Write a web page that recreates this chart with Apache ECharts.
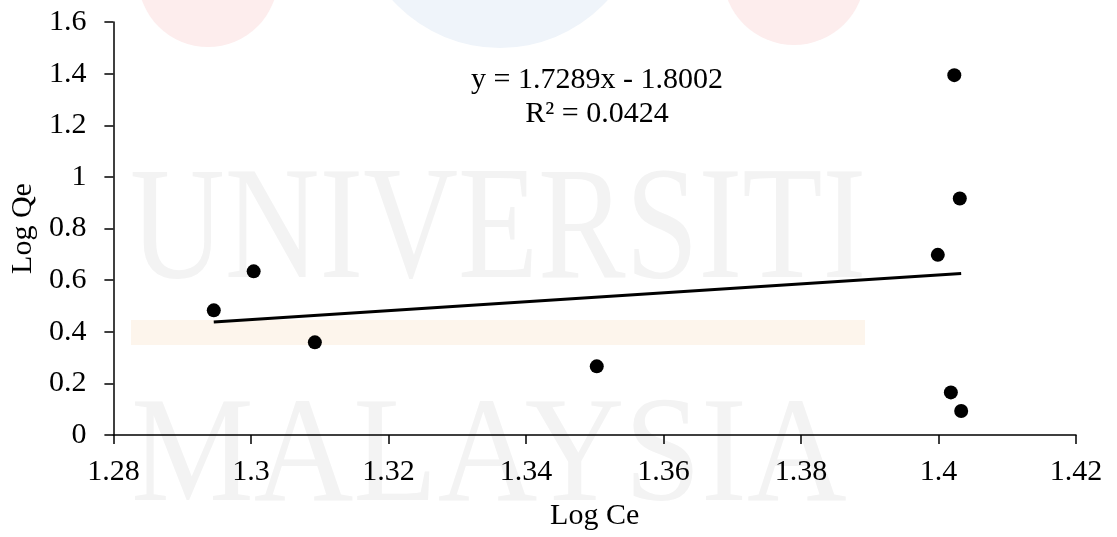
<!DOCTYPE html>
<html>
<head>
<meta charset="utf-8">
<title>Log Qe vs Log Ce</title>
<script src="https://cdn.jsdelivr.net/npm/echarts@6/dist/echarts.min.js"></script>
<style>
  html, body { margin: 0; padding: 0; background: #ffffff; }
  #chart { width: 1117px; height: 537px; }
</style>
</head>
<body>
<div id="chart"></div>
<script>
// Freundlich plot: log of equilibrium concentration vs log of uptake
const logCe = [1.2946, 1.3004, 1.3093, 1.3503, 1.3999, 1.4023, 1.4031, 1.4018, 1.4033];
const logQe = [0.483, 0.634, 0.359, 0.266, 0.698, 1.394, 0.916, 0.165, 0.093];

// Linear fit reported on the chart
const slope = 1.7289;
const intercept = -1.8002;
const rSquared = 0.0424;

const xTicks = { min: 1.28, max: 1.42, step: 0.02 };
const yTicks = { min: 0, max: 1.6, step: 0.2 };

const FONT = '"Liberation Serif", "Times New Roman", serif';
const SIZE = 30;

const points = logCe.map((x, i) => [x, logQe[i]]);
const xLo = Math.min(...logCe);
const xHi = Math.max(...logCe);
const fitLine = [[xLo, slope * xLo + intercept], [xHi, slope * xHi + intercept]];

const fmt = v => String(+v.toFixed(2));

const chart = echarts.init(document.getElementById('chart'), null, { renderer: 'canvas' });

chart.setOption({
  backgroundColor: '#ffffff',
  animation: false,
  textStyle: { fontFamily: FONT },
  graphic: [
    // faint background watermark
    { type: 'circle', z: -10, shape: { cx: 208, cy: -23, r: 70 }, style: { fill: '#fdeded' }, silent: true },
    { type: 'circle', z: -10, shape: { cx: 500, cy: -97, r: 145 }, style: { fill: '#eff4fa' }, silent: true },
    { type: 'circle', z: -10, shape: { cx: 794, cy: -26, r: 71 }, style: { fill: '#fdeded' }, silent: true },
    { type: 'rect', z: -10, shape: { x: 131, y: 320, width: 734, height: 25 }, style: { fill: '#fdf5ec' }, silent: true },
    { type: 'text', z: -10, x: 130, y: 155, scaleX: 0.82, silent: true,
      style: { text: 'UNIVERSITI', font: '160px ' + FONT, fill: '#f3f3f3', verticalAlign: 'top' } },
    { type: 'text', z: -10, x: 131, y: 386, scaleX: 0.92, silent: true,
      style: { text: 'MALAYSIA', font: '150px ' + FONT, fill: '#f3f3f3', verticalAlign: 'top' } },
    // regression equation
    { type: 'text', z: 10, x: 597, y: 63, silent: true,
      style: {
        text: 'y = ' + slope + 'x - ' + Math.abs(intercept).toFixed(4) + '\nR² = ' + rSquared,
        font: SIZE + 'px ' + FONT, fill: '#000000', align: 'center', verticalAlign: 'top', lineHeight: 34
      } }
  ],
  grid: { left: 113, right: 41, top: 22, bottom: 102, containLabel: false },
  xAxis: {
    type: 'value',
    min: xTicks.min, max: xTicks.max, interval: xTicks.step,
    name: 'Log Ce', nameLocation: 'middle', nameGap: 66,
    nameTextStyle: { fontSize: SIZE, color: '#000', fontFamily: FONT },
    axisLine: { show: true, lineStyle: { color: '#000', width: 1.5 } },
    axisTick: { show: true, length: 9, lineStyle: { color: '#000', width: 1.5 } },
    axisLabel: { fontSize: SIZE, color: '#000', margin: 22, fontFamily: FONT, formatter: fmt },
    splitLine: { show: false }
  },
  yAxis: {
    type: 'value',
    min: yTicks.min, max: yTicks.max, interval: yTicks.step,
    name: 'Log Qe', nameLocation: 'middle', nameGap: 71, nameRotate: 90,
    nameTextStyle: { fontSize: SIZE, color: '#000', fontFamily: FONT },
    axisLine: { show: true, lineStyle: { color: '#000', width: 1.5 } },
    axisTick: { show: true, length: 9, lineStyle: { color: '#000', width: 1.5 } },
    axisLabel: { fontSize: SIZE, color: '#000', margin: 27, fontFamily: FONT, formatter: fmt },
    splitLine: { show: false }
  },
  series: [
    {
      name: 'Log Qe', type: 'scatter', data: points,
      symbol: 'circle', symbolSize: 14,
      itemStyle: { color: '#000000', opacity: 1 }, z: 3
    },
    {
      name: 'Linear fit', type: 'line', data: fitLine,
      symbol: 'none', lineStyle: { color: '#000000', width: 3 }, z: 2
    }
  ]
});
</script>
</body>
</html>
